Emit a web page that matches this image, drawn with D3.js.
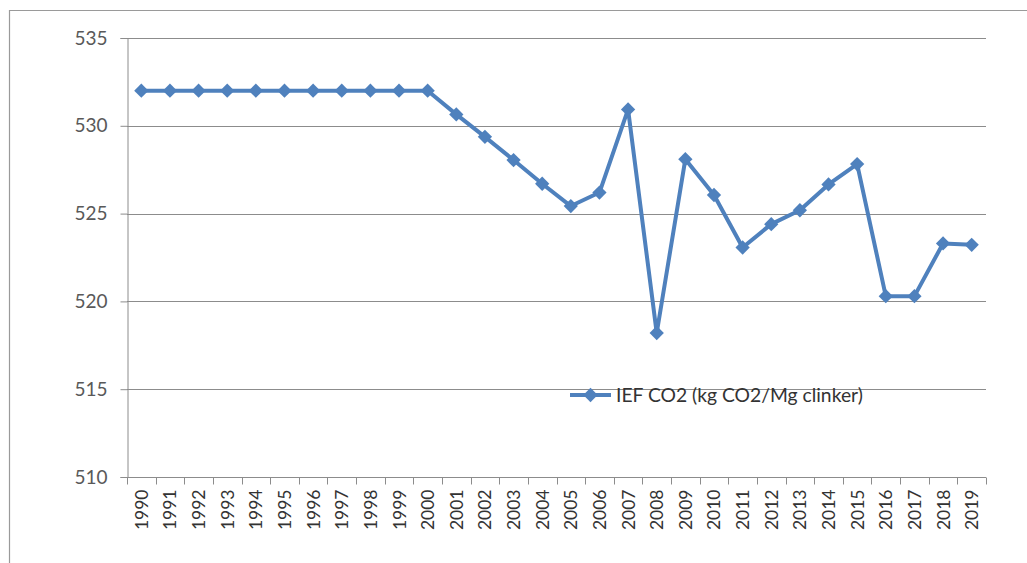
<!DOCTYPE html>
<html>
<head>
<meta charset="utf-8">
<script src="https://cdn.jsdelivr.net/npm/d3@7"></script>
<style>
  html, body { margin: 0; padding: 0; background: #fff; }
  svg { display: block; }
  text { font-family: Lato, "Open Sans", sans-serif; }
</style>
</head>
<body>
<svg id="chart" width="1027" height="563"></svg>
<script>
// Implied emission factor for clinker production, by year
const years = ["1990","1991","1992","1993","1994","1995","1996","1997","1998","1999",
               "2000","2001","2002","2003","2004","2005","2006","2007","2008","2009",
               "2010","2011","2012","2013","2014","2015","2016","2017","2018","2019"];
const iefValues = [532.0, 532.0, 532.0, 532.0, 532.0, 532.0, 532.0, 532.0, 532.0, 532.0,
                   532.0, 530.65, 529.37, 528.05, 526.7, 525.43, 526.2, 530.93, 518.2, 528.1,
                   526.06, 523.07, 524.4, 525.19, 526.66, 527.82, 520.3, 520.3, 523.3, 523.22];
const yTicks = [510, 515, 520, 525, 530, 535];
const seriesName = "IEF CO2 (kg CO2/Mg clinker)";

const svg = d3.select("#chart");
const margin = { left: 127, right: 986, top: 38, bottom: 477 };
const blue = "#4f81bd";
const gridGray = "#8c8c8c";

// chart frame
svg.append("path")
  .attr("d", "M9.5,563 L9.5,10.5 L1027,10.5")
  .attr("fill", "none").attr("stroke", "#9a9a9a").attr("stroke-width", 1.2);

const x = d3.scaleBand().domain(years).range([margin.left, margin.right]).padding(0);
const y = d3.scaleLinear().domain([510, 535]).range([margin.bottom, margin.top]);

// horizontal gridlines
svg.append("g").selectAll("line").data(yTicks.filter(t => t !== 510)).join("line")
  .attr("x1", margin.left).attr("x2", margin.right)
  .attr("y1", d => Math.round(y(d)) + 0.5).attr("y2", d => Math.round(y(d)) + 0.5)
  .attr("stroke", gridGray).attr("stroke-width", 1);

// y axis
const yAxis = svg.append("g")
  .attr("transform", `translate(${margin.left + 0.5},0)`)
  .call(d3.axisLeft(y).tickValues(yTicks).tickSize(7).tickPadding(13).tickFormat(d3.format("d")));
yAxis.select(".domain").attr("stroke", gridGray);
yAxis.selectAll(".tick line").attr("stroke", gridGray);
yAxis.selectAll(".tick text").attr("fill", "#595959").style("font-size", "19px");

// x axis: ticks sit on band boundaries
const xAxisG = svg.append("g").attr("transform", `translate(0,${Math.round(margin.bottom) + 0.5})`);
xAxisG.append("line").attr("x1", margin.left).attr("x2", margin.right)
  .attr("stroke", gridGray);
const boundaries = years.map(d => x(d)).concat([x(years[years.length - 1]) + x.bandwidth()]);
xAxisG.selectAll("line.tk").data(boundaries).join("line").attr("class", "tk")
  .attr("x1", d => Math.round(d) + 0.5).attr("x2", d => Math.round(d) + 0.5)
  .attr("y1", 0).attr("y2", 7).attr("stroke", gridGray);
xAxisG.selectAll("text").data(years).join("text")
  .attr("transform", d => `translate(${x(d) + x.bandwidth() / 2 + 6.5},12) rotate(-90)`)
  .attr("text-anchor", "end")
  .attr("fill", "#333")
  .style("font-size", "17.5px")
  .text(d => d);

// series line
const line = d3.line()
  .x((d, i) => x(years[i]) + x.bandwidth() / 2)
  .y(d => y(d));
svg.append("path").datum(iefValues)
  .attr("d", line)
  .attr("fill", "none").attr("stroke", blue).attr("stroke-width", 4)
  .attr("stroke-linejoin", "round");

const diamond = d3.symbol().type(d3.symbolDiamond2).size(130);
svg.append("g").selectAll("path").data(iefValues).join("path")
  .attr("d", diamond)
  .attr("transform", (d, i) => `translate(${x(years[i]) + x.bandwidth() / 2},${y(d)})`)
  .attr("fill", blue);

// legend
const lg = svg.append("g").attr("transform", "translate(570,395)");
lg.append("line").attr("x1", 0).attr("x2", 41).attr("stroke", blue).attr("stroke-width", 4);
lg.append("path").attr("d", diamond).attr("transform", "translate(20.5,0)").attr("fill", blue);
lg.append("text").attr("x", 46).attr("y", 6.5)
  .attr("fill", "#333").style("font-size", "19.3px").text(seriesName);
</script>
</body>
</html>
